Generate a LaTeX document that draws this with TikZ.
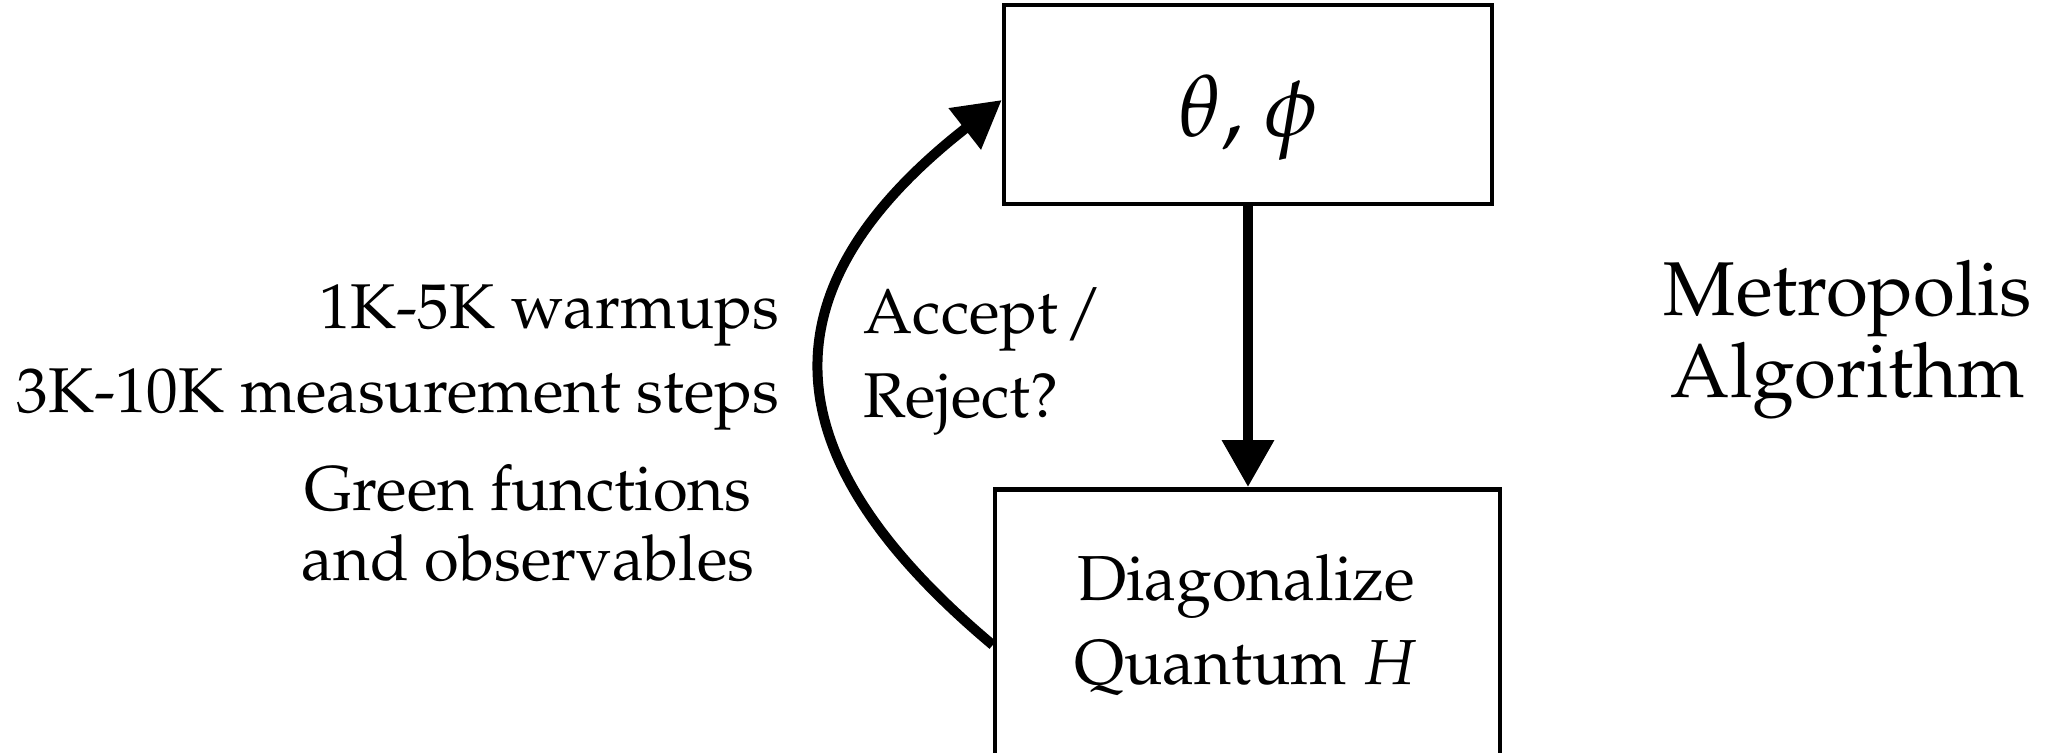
\documentclass[tikz,border=0pt]{standalone}
\usepackage{amsmath}
\usepackage[T1]{fontenc}
\usepackage{mathpazo}
\usetikzlibrary{arrows.meta,positioning}

\begin{document}
\begin{tikzpicture}[
    box/.style={rectangle, draw, line width=0.045cm, inner sep=0pt},
    arrow/.style={-{Triangle[length=0.47cm,width=0.5cm]}, line width=0.1cm},
    lbl/.style={inner sep=0pt, font=\fontsize{18}{23.9}\selectfont}
]
\useasboundingbox (0,0) rectangle (20.55,-7.52);

% the two boxes
\node[box, minimum width=4.88cm, minimum height=1.99cm, text height=23pt, text depth=5pt,
      font=\fontsize{24.7}{28}\selectfont] (theta) at (12.48,-1.045) {$\theta$, $\phi$};
\node[box, minimum width=5.05cm, minimum height=3.6cm, anchor=north] (diag) at (12.475,-4.87) {};
\node[lbl, align=center, anchor=base, font=\fontsize{18.1}{23.9}\selectfont] (diagtext)
      at (12.46,-6.84) {Diagonalize\\Quantum $H$};

% labels
\node[lbl, align=right, anchor=base east] (steps) at (7.80,-4.12) {1K-5K warmups\\3K-10K measurement steps};
\node[lbl, align=center, anchor=base, font=\fontsize{18}{19.9}\selectfont] (green) at (5.28,-5.80) {Green functions\\and observables};
\node[lbl, align=left, anchor=base west] (accept) at (8.63,-4.17) {Accept\kern0.1em/\\Reject?};
\node[lbl, align=center, anchor=base, font=\fontsize{21.7}{23.3}\selectfont] (metro) at (18.48,-3.97) {Metropolis\\Algorithm};

% connectors
\coordinate (loopstart) at ([yshift=-1.58cm]diag.north west);
\draw[arrow] (theta.south) -- (theta.south |- diag.north);
\draw[arrow] (loopstart) .. controls +(140:2.85) and +(218:3.15) .. ([yshift=0.045cm]theta.west);
\end{tikzpicture}
\end{document}
